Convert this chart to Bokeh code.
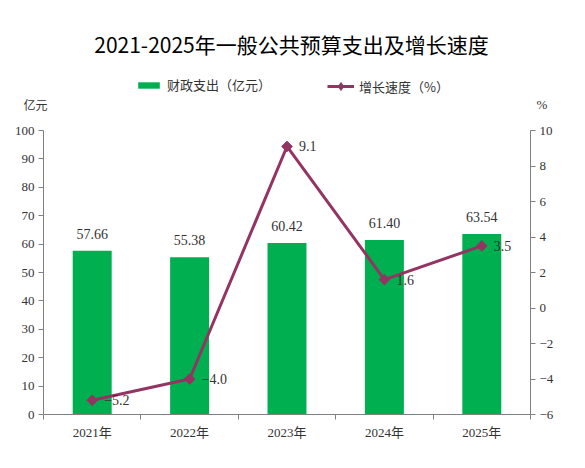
import math
from bokeh.plotting import figure
from bokeh.layouts import column
from bokeh.models import (Range1d, LinearAxis, FixedTicker, Label, Legend, LegendItem,
                          ColumnDataSource)
from bokeh.core.properties import value
from bokeh.embed import file_html
from bokeh.resources import INLINE

# ---- data ----
years = ["2021年", "2022年", "2023年", "2024年", "2025年"]
spending = [57.66, 55.38, 60.42, 61.40, 63.54]
growth = [-5.2, -4.0, 9.1, 1.6, 3.5]
left_ticks = [0, 10, 20, 30, 40, 50, 60, 70, 80, 90, 100]
right_ticks = [-6, -4, -2, 0, 2, 4, 6, 8, 10]

title_text = "2021-2025年一般公共预算支出及增长速度"
bar_name = "财政支出（亿元）"
line_name = "增长速度（%）"
left_unit = "亿元"
right_unit = "%"

BAR_COLOR = "#00b050"
LINE_COLOR = "#943462"
AXIS_COLOR = "#808080"
TEXT_COLOR = "#333333"
SERIF = "Liberation Serif, Noto Sans CJK SC"
CJK = "Noto Sans CJK SC"

W = 585
TOP_H = 115
BOT_H = 353
FL, FR = 43, 530   # frame left / right in page pixels

xs = [i + 0.5 for i in range(len(years))]
bounds = [i for i in range(len(years) + 1)]

src = ColumnDataSource(dict(
    x=xs, spend=spending, growth=growth,
    spend_lbl=[f"{v:.2f}" for v in spending],
    growth_lbl=[(f"{v:.1f}").replace("-", "\u2212") for v in growth],
))

# ---------- header figure: title, legend, unit labels ----------
h = figure(width=W, height=TOP_H, output_backend="svg", toolbar_location=None,
           x_range=Range1d(FL, FR), y_range=Range1d(TOP_H, 0),
           x_axis_location=None, y_axis_location=None,
           min_border_left=FL, min_border_right=W - FR, min_border_top=0, min_border_bottom=0)
h.outline_line_color = None
h.grid.visible = False
# ranges for the legend proxies, chosen so that the proxies fall outside the canvas
h.extra_x_ranges = {"proxy": Range1d(1000, 1100)}
h.extra_y_ranges = {"proxy": Range1d(1000, 1100)}

h.add_layout(Label(x=291, y=43, text=title_text, text_align="center",
                   text_baseline="middle", text_font=CJK, text_font_size="21px",
                   text_color="#000000"))

unit_y = 104
la = LinearAxis(ticker=FixedTicker(ticks=[unit_y]), major_label_overrides={unit_y: left_unit})
la.axis_line_color = None
la.major_tick_line_color = None
la.minor_tick_line_color = None
la.major_tick_out = 0
la.major_label_standoff = -4
la.major_label_text_font = CJK
la.major_label_text_font_size = "12px"
la.major_label_text_color = TEXT_COLOR
h.add_layout(la, "left")

rta = LinearAxis(ticker=FixedTicker(ticks=[unit_y]), major_label_overrides={unit_y: right_unit})
rta.axis_line_color = None
rta.major_tick_line_color = None
rta.minor_tick_line_color = None
rta.major_tick_out = 0
rta.major_label_standoff = 6
rta.major_label_text_font = SERIF
rta.major_label_text_font_size = "13px"
rta.major_label_text_color = TEXT_COLOR
h.add_layout(rta, "right")

lb = h.vbar(x="x", top="spend", width=0.4, source=src, color=BAR_COLOR, line_color=None,
            x_range_name="proxy", y_range_name="proxy")
ll = h.line(x="x", y="growth", source=src, line_color=LINE_COLOR, line_width=3,
            x_range_name="proxy", y_range_name="proxy")
ls = h.scatter(x="x", y="growth", source=src, marker="diamond",
               size=9, color=LINE_COLOR, x_range_name="proxy", y_range_name="proxy")

leg_common = dict(orientation="horizontal", glyph_width=27, label_standoff=5,
                  padding=0, margin=0, border_line_color=None, background_fill_alpha=0,
                  label_text_font=CJK, label_text_font_size="13px",
                  label_text_color=TEXT_COLOR)
leg_bar = Legend(items=[LegendItem(label=bar_name, renderers=[lb])],
                 location=(135 - FL, TOP_H - 94), glyph_height=8, label_height=16,
                 **leg_common)
leg_line = Legend(items=[LegendItem(label=line_name, renderers=[ll, ls])],
                  location=(327 - FL, TOP_H - 96), glyph_height=20, label_height=20,
                  **leg_common)
h.add_layout(leg_bar, "center")
h.add_layout(leg_line, "center")

# ---------- main chart ----------
p = figure(width=W, height=BOT_H, output_backend="svg", toolbar_location=None,
           x_range=Range1d(0, len(years)), y_range=Range1d(0, 100),
           min_border_left=FL, min_border_right=W - FR, min_border_top=15, min_border_bottom=54)
p.outline_line_color = None
p.grid.visible = False

p.extra_y_ranges = {"pct": Range1d(-6, 10)}

bars = p.vbar(x="x", top="spend", width=0.4, source=src, color=BAR_COLOR, line_color=None)
p.text(x="x", y="spend", text="spend_lbl", source=src, text_align="center",
       text_baseline="bottom", y_offset=-12, text_font=value(SERIF),
       text_font_size="14px", text_color=TEXT_COLOR)

ln = p.line(x="x", y="growth", source=src, y_range_name="pct", line_color=LINE_COLOR,
            line_width=3)
sc = p.scatter(x="x", y="growth", source=src, y_range_name="pct", marker="square",
               angle=math.pi / 4, size=7.5, color=LINE_COLOR)
p.text(x="x", y="growth", text="growth_lbl", source=src, y_range_name="pct",
       text_align="left", text_baseline="middle", x_offset=12, text_font=value(SERIF),
       text_font_size="14px", text_color=TEXT_COLOR)

xa = p.xaxis[0]
xa.ticker = FixedTicker(ticks=xs, minor_ticks=bounds)
xa.major_label_overrides = {x: y for x, y in zip(xs, years)}
xa.major_tick_line_color = None
xa.major_tick_out = 5
xa.major_label_standoff = 5
xa.minor_tick_in = 0
xa.minor_tick_out = 5
xa.minor_tick_line_color = AXIS_COLOR
xa.axis_line_color = AXIS_COLOR
xa.major_label_text_font = SERIF
xa.major_label_text_font_size = "13px"
xa.major_label_text_color = TEXT_COLOR

ya = p.yaxis[0]
ya.ticker = FixedTicker(ticks=left_ticks)
ya.major_tick_in = 0
ya.major_tick_out = 5
ya.minor_tick_line_color = None
ya.major_label_standoff = 4
ya.axis_line_color = AXIS_COLOR
ya.major_tick_line_color = AXIS_COLOR
ya.major_label_text_font = SERIF
ya.major_label_text_font_size = "13px"
ya.major_label_text_color = TEXT_COLOR

ra = LinearAxis(y_range_name="pct", ticker=FixedTicker(ticks=right_ticks))
ra.major_label_overrides = {t: str(t).replace("-", "\u2212") for t in right_ticks}
ra.major_tick_in = 0
ra.major_tick_out = 5
ra.minor_tick_line_color = None
ra.major_label_standoff = 4
ra.axis_line_color = AXIS_COLOR
ra.major_tick_line_color = AXIS_COLOR
ra.major_label_text_font = SERIF
ra.major_label_text_font_size = "13px"
ra.major_label_text_color = TEXT_COLOR
p.add_layout(ra, "right")

layout = column(h, p, spacing=0)
open("out.html", "w").write(file_html(layout, INLINE))
